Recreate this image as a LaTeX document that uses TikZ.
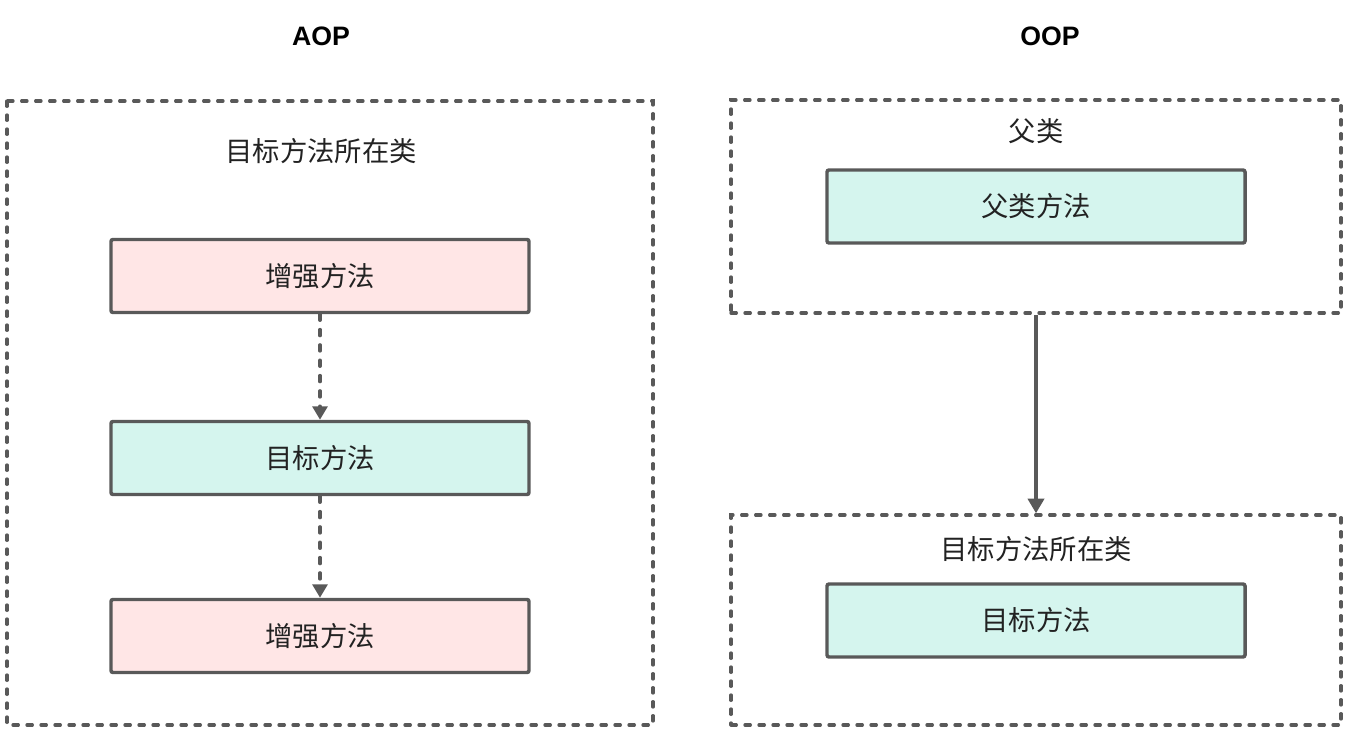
\documentclass[tikz,border=0pt]{standalone}
\usepackage{fontspec}
\setmainfont{Noto Sans CJK SC}
\newfontfamily\latinbold{Liberation Sans}
\usetikzlibrary{arrows.meta}
\definecolor{edge}{HTML}{595959}
\definecolor{pinkfill}{HTML}{FFE6E6}
\definecolor{greenfill}{HTML}{D5F5EE}
\definecolor{txt}{HTML}{222222}
\tikzset{
  px/.style={x=0.75pt,y=-0.75pt},
  methodbox/.style={draw=edge,line width=2.6pt,rounded corners=1.5pt,minimum width=418*0.75pt,minimum height=73*0.75pt,inner sep=0pt,font=\fontsize{20.5pt}{23pt}\selectfont,text=txt},
  pinkbox/.style={methodbox,fill=pinkfill},
  greenbox/.style={methodbox,fill=greenfill},
  groupbox/.style={draw=edge,line width=2.5pt,line cap=round,dash pattern=on 4pt off 6.5pt},
  grouptitle/.style={font=\fontsize{20.5pt}{23pt}\selectfont,text=txt,inner sep=0pt},
  header/.style={font=\latinbold\bfseries\fontsize{20pt}{22pt}\selectfont,text=black,inner sep=0pt},
  dasharrow/.style={draw=edge,line width=2.6pt,line cap=round,dash pattern=on 4.5pt off 7pt,-{Triangle[length=10pt,width=11pt]}},
  solidarrow/.style={draw=edge,line width=2.8pt,-{Triangle[length=11pt,width=12pt]}}
}
\begin{document}
\begin{tikzpicture}[px]
\useasboundingbox (0,0) rectangle (1348,730);
% headers
\node[header] (haop) at (321,36) {AOP};
\node[header] (hoop) at (1050,36) {OOP};
% left group
\draw[groupbox] (7,101) rectangle (653,725);
\node[grouptitle] (ltitle) at (321,151) {目标方法所在类};
\node[pinkbox] (enh1) at (320,276) {增强方法};
\node[greenbox] (target) at (320,458) {目标方法};
\node[pinkbox] (enh2) at (320,636) {增强方法};
\draw[dasharrow] (enh1.south) -- (target.north);
\draw[dasharrow] (target.south) -- (enh2.north);
% right top group
\node[groupbox,minimum width=610*0.75pt,minimum height=213*0.75pt,inner sep=0pt] (parent) at (1036,206.5) {};
\node[grouptitle] (ptitle) at (1036,131) {父类};
\node[greenbox] (pmethod) at (1036,206.5) {父类方法};
% right bottom group
\node[groupbox,minimum width=610*0.75pt,minimum height=210*0.75pt,inner sep=0pt] (child) at (1036,620) {};
\node[grouptitle] (ctitle) at (1036,549) {目标方法所在类};
\node[greenbox] (cmethod) at (1036,620.5) {目标方法};
\draw[solidarrow] (parent.south) -- (child.north);
\end{tikzpicture}
\end{document}
